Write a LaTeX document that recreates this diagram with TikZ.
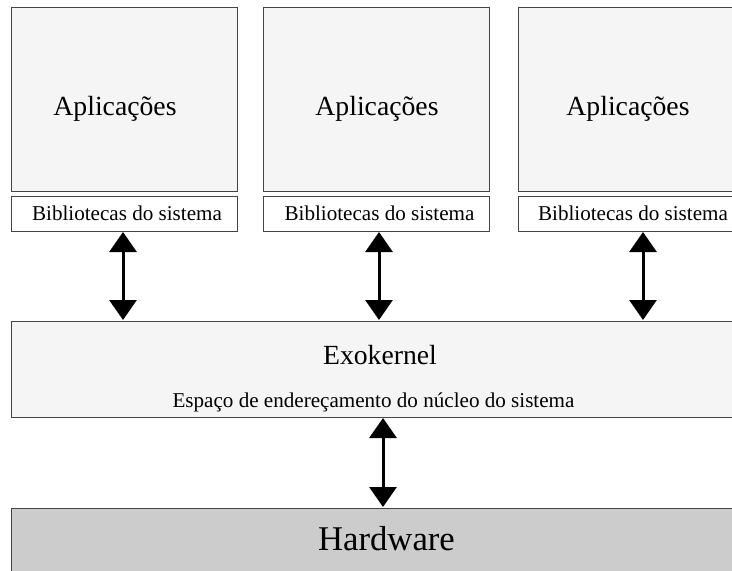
\documentclass[tikz,border=0pt]{standalone}
\usepackage{fontspec}
\setmainfont{Liberation Serif}
\usetikzlibrary{arrows.meta}
\definecolor{boxfill}{HTML}{F5F5F5}
\definecolor{hwfill}{HTML}{CCCCCC}
\definecolor{edge}{HTML}{444444}
\tikzset{
  appbox/.style={draw=edge, line width=0.9pt, fill=boxfill, anchor=north west, minimum width=226pt, minimum height=184pt, inner sep=0pt},
  libbox/.style={draw=edge, line width=0.9pt, fill=white, anchor=north west, minimum width=226pt, minimum height=35pt, inner sep=0pt},
  exobox/.style={draw=edge, line width=0.9pt, fill=boxfill, anchor=north west, minimum width=760pt, minimum height=96pt, inner sep=0pt},
  hwbox/.style={draw=edge, line width=0.9pt, fill=hwfill, anchor=north west, minimum width=760pt, minimum height=90pt, inner sep=0pt},
  apptext/.style={anchor=base, inner sep=0pt, font=\fontsize{27.7pt}{30pt}\selectfont},
  smalltext/.style={anchor=base, inner sep=0pt, font=\fontsize{21.1pt}{24pt}\selectfont},
  hwtext/.style={anchor=base, inner sep=0pt, font=\fontsize{34.7pt}{38pt}\selectfont},
  biarrow/.style={line width=3pt, {Triangle[width=27pt,length=20pt]}-{Triangle[width=27pt,length=20pt]}, shorten <=1pt, shorten >=1pt}
}
\begin{document}
\begin{tikzpicture}[x=1pt,y=-1pt]
\useasboundingbox (0,0) rectangle (732,571);
\clip (0,0) rectangle (732,571);
% application columns
\node[appbox] (a1) at (11,7) {};
\node[appbox] (a2) at (263,7) {};
\node[appbox] (a3) at (518,7) {};
\node[libbox] (b1) at (11,196) {};
\node[libbox] (b2) at (263,196) {};
\node[libbox] (b3) at (518,196) {};
\node[apptext] (ta1) at (115,115) {Aplicações};
\node[apptext] (ta2) at (377,115) {Aplicações};
\node[apptext] (ta3) at (628,115) {Aplicações};
\node[smalltext] (tb1) at (127,220) {Bibliotecas do sistema};
\node[smalltext] (tb2) at (379.5,220) {Bibliotecas do sistema};
\node[smalltext] (tb3) at (633,220) {Bibliotecas do sistema};
% exokernel
\node[exobox] (exo) at (11,321) {};
\node[apptext] (texo) at (380,364) {Exokernel};
\node[smalltext] (tesp) at (373.5,407) {Espaço de endereçamento do núcleo do sistema};
% hardware
\node[hwbox] (hw) at (11,508) {};
\node[hwtext] (thw) at (386.5,550) {Hardware};
% arrows
\coordinate (p1) at (123,231);
\coordinate (p2) at (379,231);
\coordinate (p3) at (643,231);
\coordinate (p4) at (383,417);
\draw[biarrow] (p1) -- (p1 |- exo.north);
\draw[biarrow] (p2) -- (p2 |- exo.north);
\draw[biarrow] (p3) -- (p3 |- exo.north);
\draw[biarrow] (p4) -- (p4 |- hw.north);
\end{tikzpicture}
\end{document}
